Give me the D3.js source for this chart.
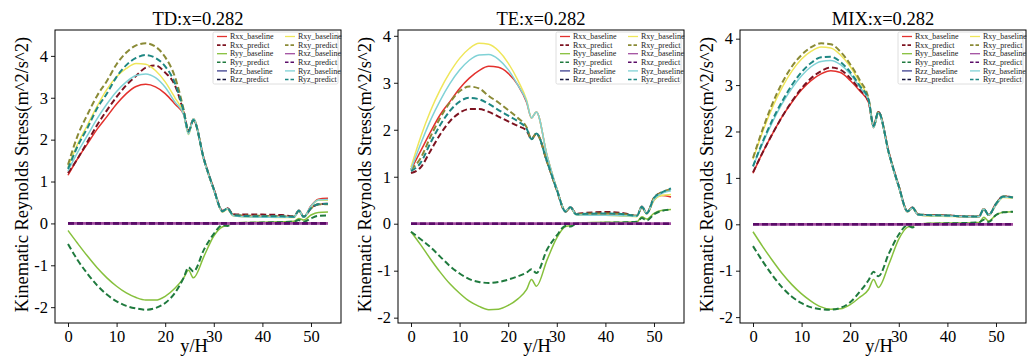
<!DOCTYPE html>
<html>
<head>
<meta charset="utf-8">
<script src="https://cdn.jsdelivr.net/npm/d3@7"></script>
<style>
  body { margin: 0; background: #fff; }
  svg { display: block; font-family: "Liberation Serif", "Times New Roman", serif; }
</style>
</head>
<body>
<svg id="chart" width="1036" height="361"></svg>
<script>
// y/H sample positions (shared by every curve)
const xGrid = [0,2,4,6,8,10,12,14,16,18,20,22,23.8,24.8,25.8,28,30,31.8,32.8,34,36,40,44,46.5,47.5,48.5,50,51.5,53.5];
const zeroLine = [0,0,0,0,0,0,0,0,0,0,0,0,0,0,0,0,0,0,0,0,0,0,0,0,0,0,0,0,0];

// TD panel
const td_Rxx_b = [1.15,1.55,1.9,2.25,2.55,2.85,3.1,3.27,3.32,3.26,3.1,2.85,2.6, 2.15,2.5,1.5,0.8,0.28,0.35,0.19,0.17,0.16,0.15,0.15,0.32,0.16,0.42,0.58,0.6];
const td_Rxx_p = [1.2,1.55,1.95,2.35,2.7,3.02,3.3,3.52,3.72,3.77,3.6,3.3,2.65, 2.2,2.48,1.52,0.82,0.3,0.36,0.22,0.21,0.21,0.2,0.17,0.3,0.16,0.36,0.46,0.47];
const td_Ryy_b = [-0.17,-0.48,-0.78,-1.06,-1.3,-1.5,-1.66,-1.77,-1.83,-1.83,-1.74,-1.55,-1.3, -1.12,-1.3,-0.78,-0.3,-0.08,-0.05,0,0.02,0.03,0.04,0.05,0.12,0.08,0.2,0.26,0.27];
const td_Ryy_p = [-0.49,-0.88,-1.2,-1.48,-1.7,-1.86,-1.97,-2.03,-2.06,-2.02,-1.9,-1.66,-1.3, -1.05,-1.15,-0.62,-0.25,-0.04,-0.06,0,0.01,0.02,0.03,0.04,0.08,0.04,0.12,0.18,0.19];
const td_Rxy_b = [1.35,1.9,2.35,2.8,3.2,3.5,3.7,3.82,3.8,3.65,3.38,3.0,2.62, 2.12,2.5,1.5,0.8,0.27,0.34,0.18,0.16,0.15,0.14,0.14,0.31,0.15,0.4,0.55,0.55];
const td_Rxy_p = [1.4,2.1,2.6,3.05,3.4,3.8,4.08,4.25,4.3,4.22,3.97,3.5,2.72, 2.2,2.46,1.52,0.82,0.29,0.35,0.2,0.19,0.18,0.17,0.16,0.3,0.16,0.36,0.45,0.46];
const td_Ryz_b = [1.25,1.7,2.1,2.5,2.85,3.15,3.38,3.53,3.57,3.48,3.25,2.9,2.6, 2.13,2.5,1.5,0.8,0.28,0.35,0.18,0.16,0.15,0.15,0.15,0.32,0.15,0.41,0.56,0.57];
const td_Ryz_p = [1.3,1.85,2.28,2.75,3.1,3.5,3.78,3.95,4.02,3.95,3.75,3.35,2.68, 2.2,2.47,1.52,0.82,0.29,0.36,0.2,0.18,0.17,0.17,0.16,0.3,0.16,0.36,0.46,0.47];

// TE panel
const te_Rxx_b = [1.15,1.55,1.95,2.32,2.6,2.88,3.1,3.26,3.35,3.33,3.2,2.95,2.58, 2.25,2.38,1.45,0.75,0.27,0.36,0.2,0.19,0.19,0.17,0.16,0.37,0.22,0.5,0.6,0.57];
const te_Rxx_p = [1.08,1.2,1.55,1.9,2.18,2.36,2.44,2.44,2.38,2.28,2.18,2.08,1.98, 1.8,1.92,1.32,0.72,0.26,0.35,0.21,0.23,0.25,0.22,0.17,0.36,0.22,0.55,0.66,0.72];
const te_Ryy_b = [-0.17,-0.45,-0.75,-1.03,-1.28,-1.48,-1.65,-1.76,-1.83,-1.82,-1.74,-1.6,-1.4, -1.19,-1.33,-0.77,-0.3,-0.06,-0.04,0.01,0.02,0.03,0.03,0.04,0.15,0.1,0.22,0.28,0.3];
const te_Ryy_p = [-0.17,-0.33,-0.5,-0.7,-0.9,-1.06,-1.18,-1.24,-1.26,-1.24,-1.19,-1.12,-1.04, -0.97,-1.05,-0.55,-0.25,-0.05,-0.06,0,0.01,0.02,0.03,0.04,0.12,0.07,0.2,0.27,0.3];
const te_Rxy_b = [1.2,1.85,2.4,2.85,3.22,3.52,3.73,3.84,3.82,3.68,3.42,3.05,2.63, 2.25,2.38,1.45,0.75,0.27,0.35,0.19,0.18,0.18,0.16,0.15,0.36,0.21,0.5,0.6,0.62];
const te_Rxy_p = [1.15,1.4,1.85,2.25,2.58,2.82,2.92,2.88,2.72,2.58,2.42,2.25,2.05, 1.8,1.92,1.32,0.72,0.26,0.35,0.2,0.21,0.22,0.2,0.17,0.36,0.22,0.55,0.66,0.73];
const te_Ryz_b = [1.15,1.7,2.2,2.62,2.98,3.27,3.48,3.59,3.6,3.5,3.28,2.95,2.6, 2.25,2.38,1.45,0.75,0.27,0.36,0.19,0.18,0.18,0.17,0.16,0.37,0.22,0.52,0.64,0.7];
const te_Ryz_p = [1.12,1.3,1.72,2.1,2.4,2.6,2.68,2.65,2.55,2.42,2.3,2.18,2.02, 1.8,1.92,1.32,0.72,0.26,0.35,0.2,0.21,0.22,0.2,0.17,0.36,0.22,0.55,0.66,0.75];

// MIX panel
const mix_Rxx_b = [1.1,1.55,1.95,2.32,2.63,2.9,3.1,3.24,3.31,3.27,3.1,2.87,2.62, 2.08,2.4,1.5,0.8,0.27,0.35,0.2,0.19,0.18,0.16,0.16,0.33,0.2,0.42,0.6,0.57];
const mix_Rxx_p = [1.12,1.55,1.95,2.32,2.65,2.93,3.15,3.3,3.38,3.33,3.15,2.9,2.64, 2.12,2.42,1.52,0.82,0.28,0.36,0.21,0.2,0.19,0.17,0.17,0.33,0.2,0.44,0.6,0.58];
const mix_Ryy_b = [-0.16,-0.48,-0.78,-1.06,-1.3,-1.5,-1.66,-1.78,-1.83,-1.82,-1.73,-1.57,-1.4, -1.19,-1.36,-0.85,-0.32,-0.06,-0.04,0,0.02,0.03,0.03,0.04,0.15,0.07,0.2,0.26,0.27];
const mix_Ryy_p = [-0.47,-0.8,-1.1,-1.36,-1.56,-1.7,-1.79,-1.83,-1.84,-1.8,-1.68,-1.45,-1.2, -1.02,-1.12,-0.62,-0.22,-0.02,-0.07,0,0.01,0.02,0.03,0.04,0.1,0.05,0.2,0.26,0.27];
const mix_Rxy_b = [1.4,2.0,2.52,2.95,3.3,3.56,3.73,3.82,3.8,3.65,3.4,3.05,2.68, 2.08,2.4,1.5,0.8,0.27,0.35,0.2,0.18,0.17,0.16,0.16,0.33,0.2,0.42,0.58,0.56];
const mix_Rxy_p = [1.43,2.05,2.6,3.05,3.4,3.65,3.82,3.9,3.88,3.72,3.45,3.1,2.7, 2.12,2.42,1.52,0.82,0.28,0.36,0.21,0.2,0.19,0.17,0.17,0.33,0.2,0.44,0.6,0.58];
const mix_Ryz_b = [1.25,1.75,2.2,2.6,2.93,3.2,3.4,3.51,3.53,3.44,3.24,2.95,2.66, 2.08,2.4,1.5,0.8,0.27,0.35,0.2,0.19,0.18,0.16,0.16,0.33,0.2,0.42,0.59,0.57];
const mix_Ryz_p = [1.25,1.78,2.25,2.65,3.0,3.28,3.48,3.6,3.61,3.5,3.28,2.98,2.68, 2.12,2.42,1.52,0.82,0.28,0.36,0.21,0.2,0.19,0.17,0.17,0.33,0.2,0.44,0.6,0.58];

const seriesNames = ["Rxx_baseline","Rxx_predict","Ryy_baseline","Ryy_predict","Rzz_baseline","Rzz_predict",
                     "Rxy_baseline","Rxy_predict","Rxz_baseline","Rxz_predict","Ryz_baseline","Ryz_predict"];
const seriesColors = ["#e3312d","#7d1320","#86c03c","#1f7a3e","#3d3f8f","#15163d",
                      "#efe65a","#8a8a36","#a24ea0","#5a0c68","#80d2d6","#1e8783"];
const panelTitles = ["TD:x=0.282","TE:x=0.282","MIX:x=0.282"];
const xTicks = [0,10,20,30,40,50];
const yTicks = [-2,-1,0,1,2,3,4];

const panelSeries = [
  [td_Rxx_b, td_Rxx_p, td_Ryy_b, td_Ryy_p, zeroLine, zeroLine, td_Rxy_b, td_Rxy_p, zeroLine, zeroLine, td_Ryz_b, td_Ryz_p],
  [te_Rxx_b, te_Rxx_p, te_Ryy_b, te_Ryy_p, zeroLine, zeroLine, te_Rxy_b, te_Rxy_p, zeroLine, zeroLine, te_Ryz_b, te_Ryz_p],
  [mix_Rxx_b, mix_Rxx_p, mix_Ryy_b, mix_Ryy_p, zeroLine, zeroLine, mix_Rxy_b, mix_Rxy_p, zeroLine, zeroLine, mix_Ryz_b, mix_Ryz_p]
];

const panelLeft = [55, 398, 740];
const PW = 286, TOP = 30, PH = 293;
const FONT = '"Liberation Serif", "Times New Roman", serif';

const svg = d3.select("#chart");

// matplotlib-style 5% margins
const pad = ([lo, hi]) => { const m = (hi - lo) * 0.05; return [lo - m, hi + m]; };

panelSeries.forEach((series, p) => {
  const left = panelLeft[p];
  const g = svg.append("g").attr("transform", `translate(${left},${TOP})`);

  const x = d3.scaleLinear().domain(pad(d3.extent(xGrid))).range([0, PW]);
  const allY = series.flat();
  const y = d3.scaleLinear().domain(pad(d3.extent(allY))).range([PH, 0]);

  g.append("clipPath").attr("id", "clip" + p)
    .append("rect").attr("width", PW).attr("height", PH);

  const line = d3.line()
    .x((d, i) => x(xGrid[i]))
    .y(d => y(d))
    .curve(d3.curveMonotoneX);

  const lines = g.append("g").attr("clip-path", `url(#clip${p})`);
  series.forEach((vals, i) => {
    const predict = i % 2 === 1;
    const isXz = seriesNames[i].startsWith("Rxz");
    let w = predict ? 2 : 1.5;
    if (isXz) w = predict ? 2.6 : 2.8;
    lines.append("path")
      .attr("d", line(vals))
      .attr("fill", "none")
      .attr("stroke", seriesColors[i])
      .attr("stroke-width", w)
      .attr("stroke-dasharray", predict ? "6,3" : null);
  });

  // axes
  const xAxis = g.append("g").attr("transform", `translate(0,${PH})`)
    .call(d3.axisBottom(x).tickValues(xTicks).tickSize(4).tickPadding(3).tickFormat(d3.format("d")));
  const yAxis = g.append("g")
    .call(d3.axisLeft(y).tickValues(yTicks).tickSize(4).tickPadding(3).tickFormat(d => String(d)));
  [xAxis, yAxis].forEach(a => {
    a.select(".domain").remove();
    a.selectAll("line").attr("stroke", "#000").attr("stroke-width", 0.9);
    a.selectAll("text").attr("fill", "#000").attr("font-size", 16.5).attr("font-family", FONT);
  });

  g.append("rect").attr("width", PW).attr("height", PH)
    .attr("fill", "none").attr("stroke", "#000").attr("stroke-width", 1);

  // labels
  g.append("text").attr("x", PW / 2).attr("y", -5)
    .attr("text-anchor", "middle").attr("font-size", 18.5).attr("font-family", FONT)
    .text(panelTitles[p]);
  g.append("text").attr("x", PW / 2 - 4).attr("y", PH + 29)
    .attr("text-anchor", "middle").attr("font-size", 18.5).attr("font-family", FONT)
    .text("y/H");
  g.append("text")
    .attr("transform", `translate(${-27},${PH / 2 - 2}) rotate(-90)`)
    .attr("text-anchor", "middle").attr("font-size", 18.5).attr("font-family", FONT)
    .text("Kinematic Reynolds Stress(m^2/s^2)");

  // legend, two columns filled column-first
  const lg = g.append("g").attr("transform", `translate(${PW - 128},2)`);
  lg.append("rect").attr("width", 125).attr("height", 52)
    .attr("fill", "#fff").attr("stroke", "#d6d6d6").attr("stroke-width", 0.8).attr("rx", 1.5);
  seriesNames.forEach((name, i) => {
    const col = Math.floor(i / 6), row = i % 6;
    const lx = 4 + col * 68, ly = 4.5 + row * 8.6;
    const predict = i % 2 === 1;
    lg.append("line").attr("x1", lx).attr("x2", lx + 10).attr("y1", ly).attr("y2", ly)
      .attr("stroke", seriesColors[i]).attr("stroke-width", predict ? 1.6 : 1.3)
      .attr("stroke-dasharray", predict ? "3.5,2" : null);
    lg.append("text").attr("x", lx + 13).attr("y", ly + 2.7)
      .attr("font-size", 8).attr("font-family", FONT).attr("fill", "#222")
      .text(name);
  });
});
</script>
</body>
</html>
